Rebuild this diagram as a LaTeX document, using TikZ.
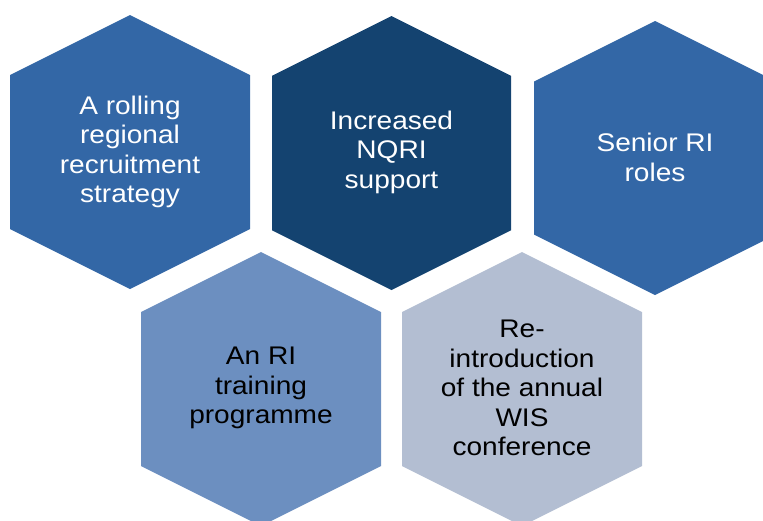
\documentclass[tikz,border=0pt]{standalone}
\usepackage{fontspec}
\setmainfont{Liberation Sans}[FakeStretch=1.1]

\definecolor{midblue}{RGB}{51,103,166}
\definecolor{navyblue}{RGB}{20,67,112}
\definecolor{softblue}{RGB}{108,143,192}
\definecolor{greyblue}{RGB}{179,190,210}

\tikzset{
  cell text/.style={align=center, font=\fontsize{25.5}{29.5}\selectfont},
  light text/.style={cell text, text=white},
  dark text/.style={cell text, text=black}
}

% hexagon: centre x, centre y, half width, colour
\newcommand{\hexcell}[4]{%
  \fill[#4] (#1,#2-137) -- ++(#3,#3/2) -- ++(0,274-#3) -- ++(-#3,#3/2)
    -- ++(-#3,-#3/2) -- ++(0,-274+#3) -- cycle;
}

\begin{document}
\begin{tikzpicture}[x=1pt, y=-1pt]
            \clip (0,0) rectangle (763,520);

            % Cells
            \hexcell{130}{152}{120}{midblue}
            \hexcell{391.5}{153}{119.5}{navyblue}
            \hexcell{655}{158}{121}{midblue}
            \hexcell{261}{389}{120}{softblue}
            \hexcell{522}{389}{120}{greyblue}

            % Labels
            \node[light text] (rolling) at (130,152) {A rolling\\regional\\recruitment\\strategy};
            \node[light text] (nqri) at (391.5,152) {Increased\\NQRI\\support};
            \node[light text] (senior) at (655,157.5) {Senior RI\\roles};
            \node[dark text] (training) at (261,388) {An RI\\training\\programme};
            \node[dark text] (wis) at (522,388) {Re-\\introduction\\of the annual\\WIS\\conference};
        \end{tikzpicture}
\end{document}
